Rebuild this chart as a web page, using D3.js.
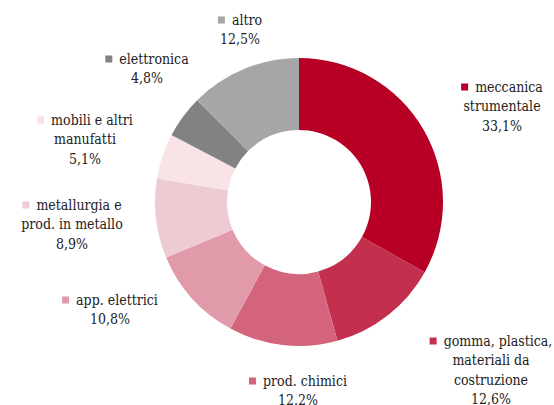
<!DOCTYPE html>
<html>
<head>
<meta charset="utf-8">
<script src="https://cdn.jsdelivr.net/npm/d3@7"></script>
<style>
  body { margin: 0; background: #fff; }
</style>
</head>
<body>
<div id="chart"></div>
<script>
// settori, in senso orario dalle ore 12
const categories = ["meccanica strumentale", "gomma, plastica, materiali da costruzione", "prod. chimici",
    "app. elettrici", "metallurgia e prod. in metallo", "mobili e altri manufatti", "elettronica", "altro"]
const values = [33.1, 12.6, 12.2, 10.8, 8.9, 5.1, 4.8, 12.5]
const value_labels = ["33,1%", "12,6%", "12.2%", "10,8%", "8,9%", "5,1%", "4,8%", "12,5%"]
const label_lines = [
    ["meccanica", "strumentale"],
    ["gomma, plastica,", "materiali da", "costruzione"],
    ["prod. chimici"],
    ["app. elettrici"],
    ["metallurgia e", "prod. in metallo"],
    ["mobili e altri", "manufatti"],
    ["elettronica"],
    ["altro"]
]
const colors = ["#b80027", "#c2304e", "#d4647b", "#e09aa9", "#eecbd2", "#f8e3e7", "#828282", "#a6a6a6"]

// centro di ogni etichetta (x) e riga della prima linea (y)
const label_pos = [[502, 87], [491, 341], [298, 381], [110, 300], [72, 205], [85, 120], [147, 59], [240, 20]]

const width = 554, height = 405
const cx = 299, cy = 202, r_out = 144, r_in = 72
const font_size = 14, line_h = 19.5, key = 7, gap = 7

var svg = d3.select('#chart').append('svg')
    .attr('width', width)
    .attr('height', height)

var pie = d3.pie().sort(null).value(function (d) { return d })
var arc = d3.arc().innerRadius(r_in).outerRadius(r_out)

svg.append('g')
    .attr('transform', `translate(${cx},${cy})`)
    .selectAll('path')
    .data(pie(values))
    .enter().append('path')
    .attr('d', arc)
    .attr('fill', function (d, i) { return colors[i] })

// etichette
categories.forEach(function (c, i) {
    let lines = label_lines[i].concat([value_labels[i]])
    let g = svg.append('g')
    let x0 = label_pos[i][0], y0 = label_pos[i][1]
    lines.forEach(function (t, j) {
        let txt = g.append('text')
            .attr('x', x0)
            .attr('y', y0 + j * line_h)
            .attr('dy', '0.35em')
            .attr('text-anchor', 'middle')
            .style('font-family', "'DejaVu Serif Condensed', 'DejaVu Serif', serif")
            .style('font-stretch', 'condensed')
            .style('font-size', font_size + 'px')
            .attr('fill', '#222')
            .text(t)
        if (j == 0) {
            let w = txt.node().getComputedTextLength()
            let left = x0 - (w + key + gap) / 2
            txt.attr('text-anchor', 'start').attr('x', left + key + gap)
            g.append('rect')
                .attr('x', left)
                .attr('y', y0 - key / 2)
                .attr('width', key)
                .attr('height', key)
                .attr('fill', colors[i])
        }
    })
})
</script>
</body>
</html>
